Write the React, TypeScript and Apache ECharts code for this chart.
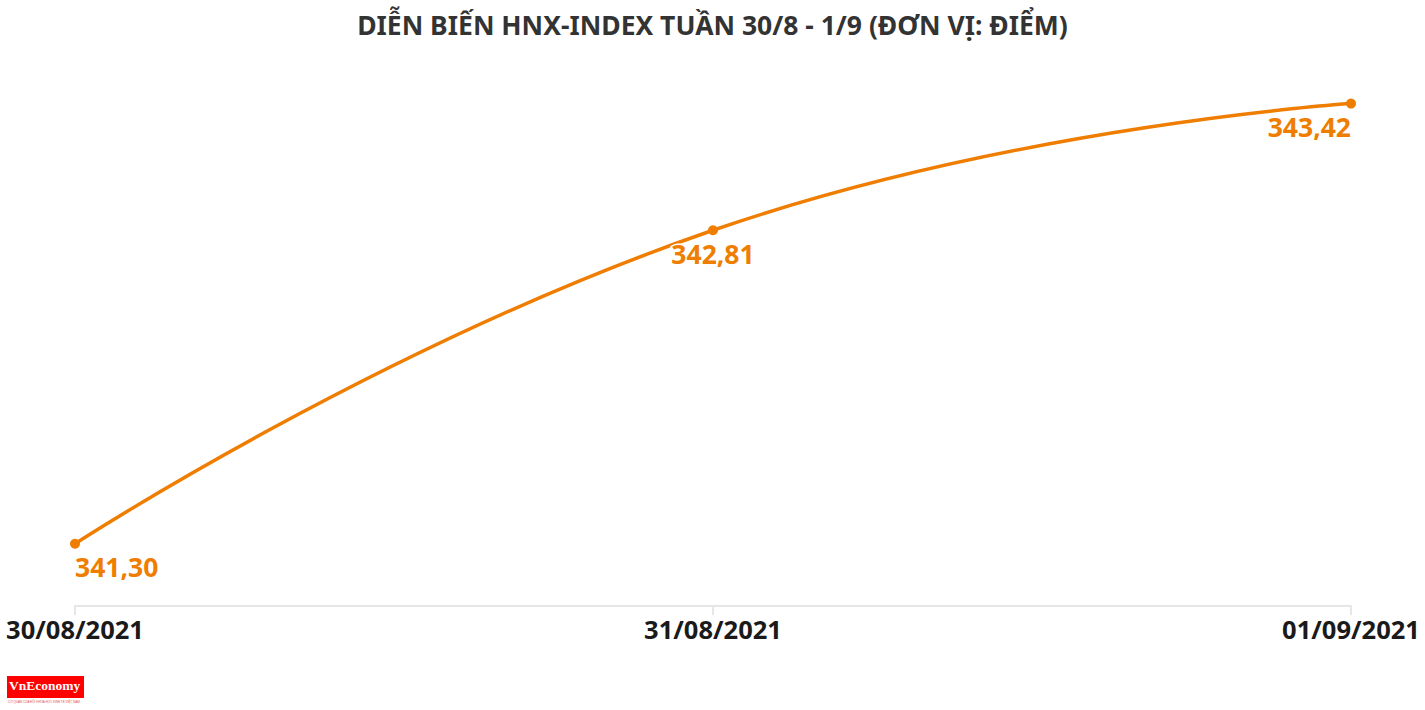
import React, { useEffect, useRef } from "react";
import * as echarts from "echarts";

const categories = ["30/08/2021", "31/08/2021", "01/09/2021"];
const values = [341.3, 342.81, 343.42];
const labelAligns = ["left", "center", "right"];
const titleText = "DIỄN BIẾN HNX-INDEX TUẦN 30/8 - 1/9 (ĐƠN VỊ: ĐIỂM)";

const ORANGE = "#EF7D00";
const FONT = "'Noto Sans', 'Open Sans', sans-serif";

export default function App() {
  const ref = useRef<HTMLDivElement>(null);
  useEffect(() => {
    document.body.style.margin = "0";
    const chart = echarts.init(ref.current!, null, { renderer: "svg" });
    chart.setOption({
      animation: false,
      backgroundColor: "#ffffff",
      title: {
        text: titleText,
        left: "center",
        top: 6,
        textStyle: { fontFamily: FONT, fontWeight: "bold", fontSize: 26.5, color: "#333333" },
      },
      grid: { left: 75, right: 74, top: 87, bottom: 104, containLabel: false },
      xAxis: {
        type: "category",
        data: categories,
        boundaryGap: false,
        axisLine: { lineStyle: { color: "#e6e6e6", width: 2 } },
        axisTick: { show: true, length: 9, lineStyle: { color: "#e6e6e6", width: 2 } },
        axisLabel: {
          fontFamily: FONT,
          fontWeight: "bold",
          fontSize: 25.5,
          color: "#1a1a1a",
          margin: 10,
          showMinLabel: true,
          showMaxLabel: true,
          interval: 0,
        },
        splitLine: { show: false },
      },
      yAxis: {
        type: "value",
        min: 341,
        max: 343.5,
        show: false,
        splitLine: { show: false },
      },
      graphic: [
        {
          type: "rect",
          left: 7,
          top: 676,
          shape: { width: 77, height: 22 },
          style: { fill: "#ff0000" },
        },
        {
          type: "text",
          left: 9,
          top: 678,
          style: {
            text: "VnEconomy",
            fill: "#ffffff",
            font: "bold 13.5px 'Liberation Serif', serif",
          },
        },
        {
          type: "text",
          left: 8,
          top: 700,
          style: {
            text: "CƠ QUAN CỦA HỘI KHOA HỌC KINH TẾ VIỆT NAM",
            fill: "#e05050",
            font: "3px sans-serif",
          },
        },
      ],
      series: [
        {
          type: "line",
          data: values.map((v, i) => ({
            value: v,
            label: { align: labelAligns[i] },
          })),
          smooth: 0.5,
          symbol: "circle",
          symbolSize: 10,
          showAllSymbol: true,
          lineStyle: { color: ORANGE, width: 3.5 },
          itemStyle: { color: ORANGE },
          label: {
            show: true,
            position: "bottom",
            distance: 5,
            fontFamily: FONT,
            fontWeight: "bold",
            fontSize: 26.5,
            color: ORANGE,
            textBorderColor: "#ffffff",
            textBorderWidth: 3,
            formatter: (p: any) => Number(p.value).toFixed(2).replace(".", ","),
          },
        },
      ],
    });
    return () => chart.dispose();
  }, []);
  return (
    <div
      ref={ref}
      style={{ position: "fixed", left: 0, top: 0, width: 1425, height: 710 }}
    />
  );
}
